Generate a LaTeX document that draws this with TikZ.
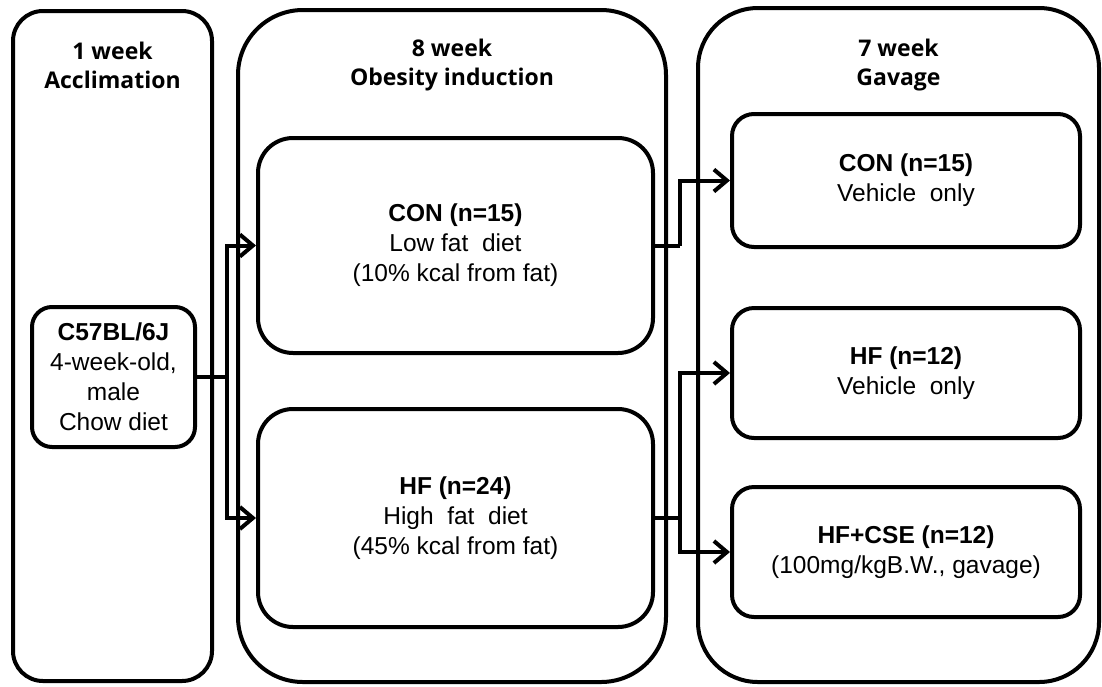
\documentclass[tikz,border=0pt]{standalone}
\usepackage{fontspec}
\setmainfont{Liberation Sans}
\newfontfamily\titlefont{Open Sans}
\usetikzlibrary{arrows.meta}
\tikzset{
  outerbox/.style={draw=black, line width=4pt, rectangle, inner sep=0pt},
  innerbox/.style={draw=black, line width=4pt, rectangle, inner sep=0pt, align=center,
    font=\fontsize{24.5}{30}\selectfont},
  titletext/.style={align=center, font=\titlefont\bfseries\fontsize{23}{29}\selectfont, inner sep=0pt},
  conn/.style={draw=black, line width=4pt, -{Straight Barb[length=13pt,width=22pt,line width=4pt]}},
  plain/.style={draw=black, line width=4pt}
}
\begin{document}
\begin{tikzpicture}[x=1pt,y=-1pt]
\useasboundingbox (0,0) rectangle (1102,686);
% outer stage boxes
\node[outerbox, minimum width=199pt, minimum height=670pt, rounded corners=30pt] (b1) at (112.5,346) {};
\node[outerbox, minimum width=428pt, minimum height=672pt, rounded corners=65pt] (b2) at (452,346) {};
\node[outerbox, minimum width=401pt, minimum height=674pt, rounded corners=60pt] (b3) at (898.5,345) {};
% titles
\node[titletext] (t1) at (112.5,65) {1 week\\Acclimation};
\node[titletext] (t2) at (452,65) {8 week\\Obesity induction};
\node[titletext] (t3) at (898.5,65) {7 week\\Gavage};
% inner boxes
\node[innerbox, minimum width=163pt, minimum height=140pt, rounded corners=20pt] (c57) at (113.5,377)
  {\textbf{C57BL/6J}\\4-week-old,\\male\\Chow diet};
\node[innerbox, minimum width=395pt, minimum height=215pt, rounded corners=35pt] (mcon) at (455.5,245.5)
  {\textbf{CON (n=15)}\\Low fat\ \ diet\\(10\% kcal from fat)};
\node[innerbox, minimum width=395pt, minimum height=218pt, rounded corners=35pt] (mhf) at (455.5,518)
  {\textbf{HF (n=24)}\\High\ \ fat\ \ diet\\(45\% kcal from fat)};
\node[innerbox, minimum width=348pt, minimum height=133pt, rounded corners=22pt] (rcon) at (906,180.5)
  {\textbf{CON (n=15)}\\Vehicle\ \ only};
\node[innerbox, minimum width=348pt, minimum height=130pt, rounded corners=22pt] (rhf) at (906,373)
  {\textbf{HF (n=12)}\\Vehicle\ \ only};
\node[innerbox, minimum width=348pt, minimum height=130pt, rounded corners=22pt] (rcse) at (906,552)
  {\textbf{HF+CSE (n=12)}\\(100mg/kgB.W., gavage)};
% junctions
\coordinate (j1) at (227,377);
\coordinate (j2) at (680,245.5);
\coordinate (j3) at (680,518);
% connectors
\draw[plain] (c57.east) -- (j1);
\draw[conn] (j1) |- (mcon.west);
\draw[conn] (j1) |- (mhf.west);
\draw[plain] (mcon.east) -- (j2);
\draw[conn] (j2) |- (rcon.west);
\draw[plain] (mhf.east) -- (j3);
\draw[conn] (j3) |- (rhf.west);
\draw[conn] (j3) |- (rcse.west);
\end{tikzpicture}
\end{document}
